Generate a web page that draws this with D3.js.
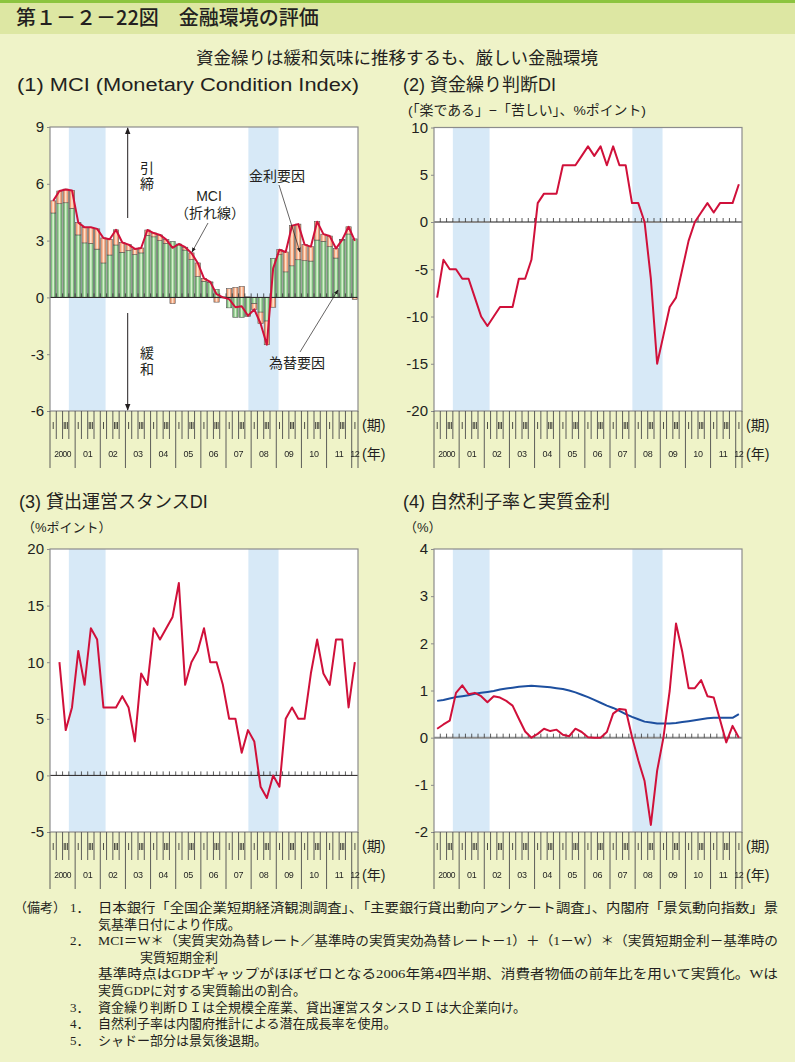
<!DOCTYPE html>
<html><head><meta charset="utf-8">
<script src="https://cdn.jsdelivr.net/npm/d3@7"></script>
<style>
body{margin:0;background:#eff3c8;}
svg{display:block;}
text{font-family:"Liberation Sans","Noto Sans CJK JP",sans-serif;fill:#231f20;}
</style></head><body>
<svg id="c" width="795" height="1062"></svg>
<script>
// ---------------- DATA ----------------
const yearLabels = ["2000","01","02","03","04","05","06","07","08","09","10","11","12"];
const quarterNames = ["Ⅰ","Ⅱ","Ⅲ","Ⅳ"];
const quarterShown = ["Ⅰ","","Ⅲ",""];
const periods = yearLabels.flatMap(y => quarterNames.map(q => y + "-" + q)).slice(0, 49);

// (1) MCI components (2000Q1 .. 2012Q1)
const fxFactor =   [4.46,4.95,5.00,4.70,3.30,2.88,2.85,2.55,1.82,2.24,2.77,2.38,2.47,2.26,2.35,3.28,3.20,3.00,2.85,2.95,2.77,2.50,2.00,1.10,0.85,0.78,0.42,0.03,-0.55,-1.05,-1.05,-1.00,-0.33,-0.78,-1.25,2.05,2.26,1.35,1.67,1.99,1.94,1.92,3.03,2.96,2.68,2.08,3.03,3.35,3.09];
const rateFactor = [0.64,0.67,0.72,0.95,0.65,0.82,0.85,1.07,1.32,0.83,0.80,0.52,0.32,0.30,0.26,0.28,0.20,0.30,0.20,-0.33,0.05,0.15,0.35,0.72,0.15,0.04,-0.25,-0.03,0.46,0.53,0.58,0.03,-0.30,-0.60,-1.25,-0.52,0.26,1.05,2.12,1.88,0.85,0.76,0.97,0.38,0.56,0.50,0.02,0.38,-0.10];
const mci =        [5.10,5.62,5.70,5.65,3.95,3.70,3.70,3.62,3.14,3.07,3.57,2.90,2.79,2.56,2.61,3.56,3.40,3.30,3.05,2.62,2.82,2.65,2.35,1.82,1.00,0.82,0.17,0.00,-0.09,-0.52,-0.47,-0.97,-0.63,-1.38,-2.50,1.53,2.52,2.40,3.79,3.87,2.79,2.68,4.00,3.34,3.24,2.58,3.05,3.73,2.99];
// (2) funding DI
const fundingDI = [-8,-4,-5,-5,-6,-6,-8,-10,-11,-10,-9,-9,-9,-6,-6,-4,2,3,3,3,6,6,6,7,8,7,8,6,8,6,6,2,2,0,-6,-15,-12,-9,-8,-5,-2,0,1,2,1,2,2,2,4];
// (3) lending attitude DI (survey begins 2000Q2)
const lendingDI = [null,10,4,6,11,8,13,12,6,6,6,7,6,3,9,8,13,12,13,14,17,8,10,11,13,10,10,8,5,5,2,4,3,-1,-2,0,-1,5,6,5,5,9,12,9,8,12,12,6,10];
// (4) natural rate and real rate
const naturalRate = [0.78,0.80,0.83,0.86,0.88,0.90,0.93,0.95,0.97,0.99,1.02,1.04,1.06,1.08,1.09,1.10,1.09,1.08,1.07,1.05,1.03,1.00,0.96,0.91,0.86,0.80,0.74,0.68,0.63,0.57,0.50,0.44,0.39,0.34,0.32,0.30,0.30,0.30,0.31,0.33,0.35,0.37,0.39,0.41,0.42,0.42,0.42,0.42,0.50];
const realRate = [0.19,0.28,0.36,0.95,1.11,0.92,0.95,0.88,0.75,0.88,0.85,0.78,0.68,0.40,0.13,0.00,0.08,0.19,0.14,0.17,0.06,0.03,0.19,0.12,0.01,0.00,0.00,0.12,0.51,0.61,0.59,0.02,-0.48,-0.92,-1.85,-0.70,0.00,1.00,2.42,1.82,1.05,1.05,1.22,0.88,0.85,0.38,-0.10,0.25,0.00];
// recessions (fractional years)
const recessions = [[2000.75, 2002.21], [2007.89, 2009.09]];

const ticks1 = [9,6,3,0,-3,-6];
const ticks2 = [10,5,0,-5,-10,-15,-20];
const ticks3 = [20,15,10,5,0,-5];
const ticks4 = [4,3,2,1,0,-1,-2];

// ---------------- DRAW ----------------
const svg = d3.select("#c");
const W = 795;
const defs = svg.append("defs");
defs.append("marker").attr("id","ah").attr("viewBox","0 0 10 10").attr("refX",9).attr("refY",5)
  .attr("markerWidth",7).attr("markerHeight",7).attr("orient","auto-start-reverse")
  .append("path").attr("d","M0,1 L10,5 L0,9 Z").attr("fill","#231f20");
defs.append("filter").attr("id","gray").append("feColorMatrix").attr("type","saturate").attr("values","0");

svg.append("rect").attr("x",0).attr("y",0).attr("width",W).attr("height",1062).attr("fill","#eff3c8");
svg.append("rect").attr("x",0).attr("y",0).attr("width",W).attr("height",34).attr("fill","#dde7a3");
svg.append("rect").attr("x",0).attr("y",0).attr("width",W).attr("height",3).attr("fill","#8cc43f");
svg.append("text").attr("x",16).attr("y",25).attr("font-size",20).attr("font-weight",500)
  .style("font-family","'Noto Sans CJK JP',sans-serif").text("第１－２－22図　金融環境の評価");
svg.append("text").attr("x",397).attr("y",64).attr("text-anchor","middle").attr("font-size",17.5)
  .text("資金繰りは緩和気味に推移するも、厳しい金融環境");

function fmt(d){ return d < 0 ? "-" + Math.abs(d) : String(d); }

function panel(cfg){
  const g = svg.append("g");
  const x = d3.scaleBand().domain(periods).range([cfg.x0, cfg.x1]);
  const bw = x.bandwidth();
  const y = d3.scaleLinear().domain(cfg.dom).range([cfg.y1, cfg.y0]);
  const xc = i => x(periods[i]) + bw/2;
  const xt = t => cfg.x0 + (t - 2000) * 4 * bw;
  g.append("rect").attr("x",cfg.x0).attr("y",cfg.y0).attr("width",cfg.x1-cfg.x0).attr("height",cfg.y1-cfg.y0).attr("fill","#fff");
  g.selectAll(".rec").data(recessions).join("rect")
    .attr("x",d=>xt(d[0])).attr("width",d=>xt(d[1])-xt(d[0]))
    .attr("y",cfg.y0).attr("height",cfg.y1-cfg.y0).attr("fill","#d7e9f7");
  const layer = g.append("g");
  const z = g.append("g");
  z.append("line").attr("x1",cfg.x0).attr("x2",cfg.x1).attr("y1",y(0)).attr("y2",y(0))
    .attr("stroke",cfg.zc).attr("stroke-width",cfg.zw);
  z.selectAll(".zt").data(d3.range(1,49)).join("line")
    .attr("x1",k=>cfg.x0+k*bw).attr("x2",k=>cfg.x0+k*bw).attr("y1",y(0)-4).attr("y2",y(0))
    .attr("stroke","#333").attr("stroke-width",0.8);
  g.append("rect").attr("x",cfg.x0).attr("y",cfg.y0).attr("width",cfg.x1-cfg.x0).attr("height",cfg.y1-cfg.y0)
    .attr("fill","none").attr("stroke","#8c8c8c").attr("stroke-width",1.2);
  const ax = g.append("g").attr("transform",`translate(${cfg.x0},0)`)
    .call(d3.axisLeft(y).tickValues(cfg.ticks).tickSize(3).tickPadding(3).tickFormat(fmt));
  ax.select(".domain").remove();
  ax.selectAll("line").attr("stroke","#8c8c8c");
  ax.selectAll("text").attr("font-size",15).attr("fill","#231f20")
    .style("font-family","'Liberation Sans',sans-serif");
  const xa = g.append("g").attr("filter","url(#gray)");
  xa.selectAll(".qline").data(d3.range(0,50)).join("line")
    .attr("x1",k=>cfg.x0+k*bw).attr("x2",k=>cfg.x0+k*bw)
    .attr("y1",cfg.y1).attr("y2",k=>(k%4===0||k===49)?cfg.y1+57:cfg.y1+28)
    .attr("stroke","#4d4d4d").attr("stroke-width",0.9);
  xa.selectAll(".qt").data(periods).join("text")
    .attr("x",(d,i)=>xc(i)).attr("y",cfg.y1+18).attr("text-anchor","middle")
    .attr("font-size",8).attr("fill","#333").style("font-family","'DejaVu Sans','Noto Sans CJK JP',sans-serif")
    .text((d,i)=>quarterShown[i%4]);
  xa.selectAll(".yt").data(yearLabels).join("text")
    .attr("x",(d,i)=> i<12 ? cfg.x0+(i*4+2)*bw : xc(48)).attr("y",cfg.y1+46).attr("text-anchor","middle")
    .attr("font-size",d=>d.length>2?8.5:9).attr("letter-spacing",d=>d.length>2?-0.6:-0.3)
    .style("font-family","'Liberation Sans Narrow','Liberation Sans',sans-serif")
    .text(d=>d);
  g.append("text").attr("x",cfg.x1+4).attr("y",cfg.y1+19).attr("font-size",14).text("(期)");
  g.append("text").attr("x",cfg.x1+4).attr("y",cfg.y1+48).attr("font-size",14).text("(年)");
  return {g, layer, x, y, bw, xc};
}

function seriesLine(p, data, color, width){
  p.g.append("path").datum(data)
    .attr("d", d3.line().defined(d=>d!=null).x((d,i)=>p.xc(i)).y(d=>p.y(d)))
    .attr("fill","none").attr("stroke",color).attr("stroke-width",width).attr("stroke-linejoin","round");
}
function title(x,y,t,len){
  const e = svg.append("text").attr("x",x).attr("y",y).attr("font-size",18).text(t);
  if(len) e.attr("textLength",len).attr("lengthAdjust","spacingAndGlyphs");
}

// ---- Panel 1 ----
title(17,91,"(1) MCI (Monetary Condition Index)",342);
const p1 = panel({x0:50,x1:358,y0:127,y1:411,dom:[-6,9],ticks:ticks1,zc:"#231f20",zw:1});
const table = periods.map((p,i)=>({p, fx:fxFactor[i], rate:rateFactor[i]}));
const stack = d3.stack().keys(["fx","rate"]).offset(d3.stackOffsetDiverging)(table);
const fills = {fx:["#7fbf7f","#d6f0cc"], rate:["#f19f77","#fde1cc"]};
const bwid = p1.bw*0.84;
stack.forEach(s=>{
  const gg = p1.layer.append("g");
  s.forEach((d,i)=>{
    const y0 = p1.y(d[0]), y1 = p1.y(d[1]);
    const top = Math.min(y0,y1), h = Math.abs(y1-y0);
    if(h<0.2) return;
    gg.append("rect").attr("x",p1.xc(i)-bwid/2).attr("y",top).attr("width",bwid).attr("height",h)
      .attr("fill",fills[s.key][0]).attr("stroke","#555").attr("stroke-width",0.6);
    gg.append("rect").attr("x",p1.xc(i)-bwid*0.16).attr("y",top+0.4).attr("width",bwid*0.32).attr("height",Math.max(0,h-0.8))
      .attr("fill",fills[s.key][1]);
  });
});
seriesLine(p1, mci, "#d0103a", 2);
const ann = svg.append("g");
function arrow(x1,y1,x2,y2,w){
  ann.append("line").attr("x1",x1).attr("y1",y1).attr("x2",x2).attr("y2",y2)
    .attr("stroke","#231f20").attr("stroke-width",w||0.7).attr("marker-end","url(#ah)");
}
function vtext(x,y,t){
  ann.append("text").attr("x",x).attr("y",y).attr("font-size",14)
    .style("writing-mode","vertical-rl").style("font-family","'Noto Sans CJK JP',sans-serif")
    .attr("letter-spacing",1.5).text(t);
}
arrow(127.7,218,127.7,128,1);
arrow(127.7,313,127.7,410,1);
vtext(147,161,"引締");
vtext(147,346,"緩和");
ann.append("text").attr("x",209).attr("y",201).attr("font-size",14).attr("text-anchor","middle").text("MCI");
ann.append("text").attr("x",210).attr("y",218).attr("font-size",14).attr("text-anchor","middle").text("（折れ線）");
arrow(208,223,192,252);
ann.append("text").attr("x",277).attr("y",181).attr("font-size",14).attr("text-anchor","middle").text("金利要因");
arrow(279,185,300,252);
ann.append("text").attr("x",297).attr("y",368).attr("font-size",14).attr("text-anchor","middle").text("為替要因");
arrow(300,352,338,290);

// ---- Panel 2 ----
title(403,91,"(2) 資金繰り判断DI");
svg.append("text").attr("x",408).attr("y",115).attr("font-size",13.5).attr("textLength",238).attr("lengthAdjust","spacingAndGlyphs")
  .text("(「楽である」−「苦しい」、%ポイント)");
const p2 = panel({x0:434,x1:742,y0:127.5,y1:411,dom:[-20,10],ticks:ticks2,zc:"#8c8c8c",zw:2});
seriesLine(p2, fundingDI, "#d0103a", 2);

// ---- Panel 3 ----
title(19,508,"(3) 貸出運営スタンスDI");
svg.append("text").attr("x",22).attr("y",532).attr("font-size",13).text("（%ポイント）");
const p3 = panel({x0:50,x1:358,y0:549,y1:832,dom:[-5,20],ticks:ticks3,zc:"#231f20",zw:1});
seriesLine(p3, lendingDI, "#d0103a", 2);

// ---- Panel 4 ----
title(403,508,"(4) 自然利子率と実質金利");
svg.append("text").attr("x",404).attr("y",532).attr("font-size",13).text("（%）");
const p4 = panel({x0:434,x1:742,y0:549,y1:832,dom:[-2,4],ticks:ticks4,zc:"#8c8c8c",zw:2});
seriesLine(p4, naturalRate, "#1d4f9f", 2);
seriesLine(p4, realRate, "#d0103a", 2);
ann.append("text").attr("x",460).attr("y",615).attr("font-size",14).text("自然利子率");
arrow(512,625,535,684);
ann.append("text").attr("x",468).attr("y",798).attr("font-size",14).text("実質金利（短期）");
arrow(539,778,552,733);

// ---- Notes ----
const notes = [
  {n:"（備考）",nx:14, k:"1．", t:"日本銀行「全国企業短期経済観測調査」、「主要銀行貸出動向アンケート調査」、内閣府「景気動向指数」景", tx:98, len:680},
  {k:"", t:"気基準日付により作成。", tx:98},
  {k:"2．", t:"MCI＝W＊（実質実効為替レート／基準時の実質実効為替レート－1）＋（1－W）＊（実質短期金利－基準時の", tx:98, len:680},
  {k:"", t:"実質短期金利", tx:140},
  {k:"", t:"基準時点はGDPギャップがほぼゼロとなる2006年第4四半期、消費者物価の前年比を用いて実質化。Wは", tx:98, len:680},
  {k:"", t:"実質GDPに対する実質輸出の割合。", tx:98},
  {k:"3．", t:"資金繰り判断ＤＩは全規模全産業、貸出運営スタンスＤＩは大企業向け。", tx:98},
  {k:"4．", t:"自然利子率は内閣府推計による潜在成長率を使用。", tx:98},
  {k:"5．", t:"シャドー部分は景気後退期。", tx:98}
];
const ng = svg.append("g").attr("font-size",13).style("font-family","'Liberation Serif','Noto Sans CJK JP',serif");
notes.forEach((d,i)=>{
  const yy = 912 + i*16.6;
  if(d.n) ng.append("text").attr("x",d.nx).attr("y",yy).style("font-family","inherit").text(d.n);
  if(d.k) ng.append("text").attr("x",70).attr("y",yy).style("font-family","inherit").text(d.k);
  const t = ng.append("text").attr("x",d.tx).attr("y",yy).style("font-family","inherit").text(d.t);
  if(d.len) t.attr("textLength",d.len).attr("lengthAdjust","spacingAndGlyphs");
});
</script>
</body></html>
